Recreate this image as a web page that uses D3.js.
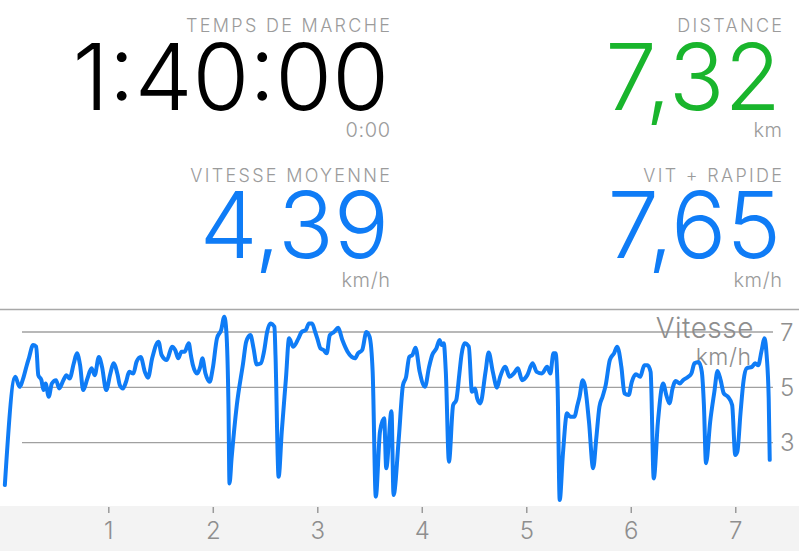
<!DOCTYPE html>
<html>
<head>
<meta charset="utf-8">
<script src="https://cdn.jsdelivr.net/npm/d3@7"></script>
<style>
  html, body { margin: 0; padding: 0; background: #fff; }
  svg { display: block; }
  text { font-family: Inter, Roboto, sans-serif; }
</style>
</head>
<body>
<svg id="chart" width="799" height="551"></svg>
<script>
// ---- Data ----
const statLabels = ["TEMPS DE MARCHE", "DISTANCE", "VITESSE MOYENNE", "VIT + RAPIDE"];
const statValues = ["1:40:00", "7,32", "4,39", "7,65"];
const statUnits = ["0:00", "km", "km/h", "km/h"];

const distance = [0.01,0.11,0.15,0.19,0.22,0.24,0.28,0.31,0.33,0.36,0.38,0.40,0.43,0.46,0.50,0.53,0.57,0.60,0.63,0.67,0.70,0.73,0.76,0.80,0.84,0.87,0.91,0.94,0.98,1.02,1.05,1.09,1.11,1.14,1.17,1.20,1.24,1.27,1.31,1.35,1.38,1.42,1.48,1.51,1.56,1.61,1.64,1.67,1.70,1.73,1.77,1.79,1.81,1.85,1.88,1.90,1.93,1.97,2.00,2.04,2.08,2.11,2.13,2.15,2.16,2.18,2.23,2.29,2.32,2.36,2.39,2.42,2.46,2.49,2.52,2.55,2.59,2.60,2.63,2.66,2.70,2.73,2.77,2.82,2.85,2.89,2.92,2.95,2.98,3.00,3.03,3.06,3.09,3.12,3.16,3.20,3.24,3.29,3.33,3.36,3.39,3.43,3.47,3.50,3.53,3.56,3.60,3.64,3.66,3.71,3.73,3.78,3.82,3.85,3.88,3.91,3.94,3.98,4.03,4.07,4.10,4.14,4.17,4.19,4.21,4.23,4.26,4.30,4.33,4.36,4.38,4.41,4.45,4.48,4.51,4.53,4.56,4.61,4.64,4.68,4.72,4.75,4.80,4.84,4.88,4.92,4.96,5.01,5.06,5.10,5.15,5.20,5.23,5.26,5.28,5.30,5.32,5.35,5.39,5.42,5.46,5.49,5.51,5.54,5.56,5.60,5.64,5.67,5.70,5.73,5.76,5.80,5.84,5.87,5.91,5.94,5.98,6.01,6.05,6.09,6.13,6.16,6.19,6.22,6.26,6.31,6.34,6.37,6.40,6.43,6.47,6.50,6.55,6.58,6.61,6.65,6.68,6.70,6.72,6.76,6.80,6.83,6.86,6.89,6.93,6.97,7.00,7.02,7.05,7.08,7.11,7.16,7.19,7.22,7.25,7.28,7.30,7.32,7.33];
const speed = [1.47,5.38,5.02,5.38,5.80,6.05,6.53,6.47,5.44,5.26,4.90,5.14,4.66,5.14,5.26,4.96,5.26,5.44,5.32,5.87,6.23,5.80,4.90,5.32,5.69,5.44,6.10,5.74,4.90,5.50,5.87,5.44,5.08,4.96,5.20,5.56,5.50,5.92,6.10,5.56,5.35,6.05,6.65,6.17,5.99,6.47,6.35,6.05,6.29,6.29,6.59,6.17,5.80,5.50,5.74,6.05,5.50,5.20,5.69,6.77,7.07,7.55,7.00,4.36,1.53,2.44,4.36,5.87,6.65,6.89,6.41,5.83,5.87,6.29,7.00,7.31,7.19,6.17,1.77,3.40,5.32,6.77,6.47,6.77,7.00,7.07,7.31,7.31,7.00,6.77,6.41,6.35,6.23,6.89,7.00,7.15,6.71,6.29,6.10,6.05,6.23,6.35,7.00,6.83,5.56,1.05,3.40,3.88,2.08,4.14,1.11,3.16,5.08,5.38,6.10,6.17,6.43,5.56,5.02,5.74,6.17,6.41,6.71,6.53,6.59,5.56,2.31,4.36,4.54,5.50,6.17,6.59,6.47,4.84,4.96,4.60,4.42,5.56,6.26,5.56,4.99,5.38,5.74,5.38,5.50,5.69,5.26,5.44,5.87,5.56,5.50,5.74,5.50,6.23,6.23,4.96,0.93,2.56,4.06,3.94,3.94,4.36,4.66,5.26,5.08,3.76,2.08,3.16,4.30,4.66,5.08,5.99,6.23,6.47,5.74,4.78,4.72,5.20,5.47,5.38,5.80,5.80,5.56,1.71,3.76,5.14,4.72,4.42,4.96,5.23,5.14,5.26,5.38,5.50,5.87,5.92,5.56,4.36,2.26,3.76,4.84,5.59,5.26,4.78,4.66,4.36,2.56,2.68,4.06,5.26,5.69,5.74,5.87,5.80,6.29,6.77,6.17,4.60,2.38];

const yTicks = [3, 5, 7];
const xTicks = [1, 2, 3, 4, 5, 6, 7];
const axisTitle = "Vitesse";
const axisUnit = "km/h";

// ---- Drawing ----
const svg = d3.select("#chart");
const W = 799, H = 551;
const blue = "#0f7cf6", green = "#19b52c";

// Stats block
const statPos = [
  {x: 390, col: "#000"}, {x: 782, col: green},
  {x: 390, col: blue}, {x: 782, col: blue}
];
const rowBase = [0, 0, 150, 150];
statLabels.forEach((lab, i) => {
  const g = svg.append("g").attr("transform", `translate(${statPos[i].x},${rowBase[i]})`);
  g.append("text").attr("x", 2.3).attr("y", 31.5).attr("text-anchor", "end")
    .attr("font-size", 18).attr("font-weight", 300).attr("letter-spacing", 2.3)
    .attr("fill", "#9b9b9b").text(lab);
  g.append("text").attr("x", -1).attr("y", i < 2 ? 110 : 108).attr("text-anchor", "end")
    .attr("font-size", 92).attr("font-weight", 350).attr("fill", statPos[i].col)
    .text(statValues[i]);
  g.append("text").attr("x", 0.6).attr("y", 137).attr("text-anchor", "end")
    .attr("font-size", 20).attr("font-weight", 300).attr("letter-spacing", 0.6)
    .attr("fill", "#9b9b9b").text(statUnits[i]);
});

// Chart region
const chartTop = 309.5, bandTop = 506;
svg.append("line").attr("x1", 0).attr("x2", W).attr("y1", chartTop).attr("y2", chartTop)
  .attr("stroke", "#a8a8a8").attr("stroke-width", 1.5);
svg.append("rect").attr("x", 0).attr("y", bandTop).attr("width", W).attr("height", H - bandTop)
  .attr("fill", "#f3f3f3");

const x = d3.scaleLinear().domain([0, 7.32]).range([3.8, 768.7]);
const y = d3.scaleLinear().domain([3, 7]).range([442.7, 332]);

// gridlines
svg.append("g").selectAll("line").data(yTicks).join("line")
  .attr("x1", 22).attr("x2", 773)
  .attr("y1", d => y(d)).attr("y2", d => y(d))
  .attr("stroke", "#a0a0a0").attr("stroke-width", 1.3);

// y labels
svg.append("g").selectAll("text").data(yTicks).join("text")
  .attr("x", 780).attr("y", d => y(d) + 8.5)
  .attr("font-size", 24).attr("font-weight", 300).attr("fill", "#8e8e8e")
  .text(d => d);

// axis title
svg.append("text").attr("x", 754).attr("y", 338).attr("text-anchor", "end")
  .attr("font-size", 28).attr("font-weight", 300).attr("letter-spacing", 0.5)
  .attr("fill", "#8e8e8e").text(axisTitle);
svg.append("text").attr("x", 751.5).attr("y", 365).attr("text-anchor", "end")
  .attr("font-size", 23).attr("font-weight", 300).attr("letter-spacing", 0.5)
  .attr("fill", "#8e8e8e").text(axisUnit);

// x axis
const xAxis = d3.axisBottom(x).tickValues(xTicks).tickSize(6).tickPadding(8).tickFormat(d => d);
const gx = svg.append("g").attr("transform", `translate(0,${bandTop + 1})`).call(xAxis);
gx.select(".domain").remove();
gx.selectAll(".tick line").attr("stroke", "#9a9a9a").attr("stroke-width", 1.5);
gx.selectAll(".tick text").attr("font-size", 24).attr("font-weight", 300)
  .attr("fill", "#8e8e8e").attr("font-family", "Inter, Roboto, sans-serif").attr("dy", "0.71em")
  .attr("y", 15);

// line
const pts = distance.map((d, i) => [d, speed[i]]);
const line = d3.line().x(d => x(d[0])).y(d => y(d[1])).curve(d3.curveMonotoneX);
svg.append("path").datum(pts).attr("d", line)
  .attr("fill", "none").attr("stroke", blue).attr("stroke-width", 4)
  .attr("stroke-linejoin", "round").attr("stroke-linecap", "round");
</script>
</body>
</html>
